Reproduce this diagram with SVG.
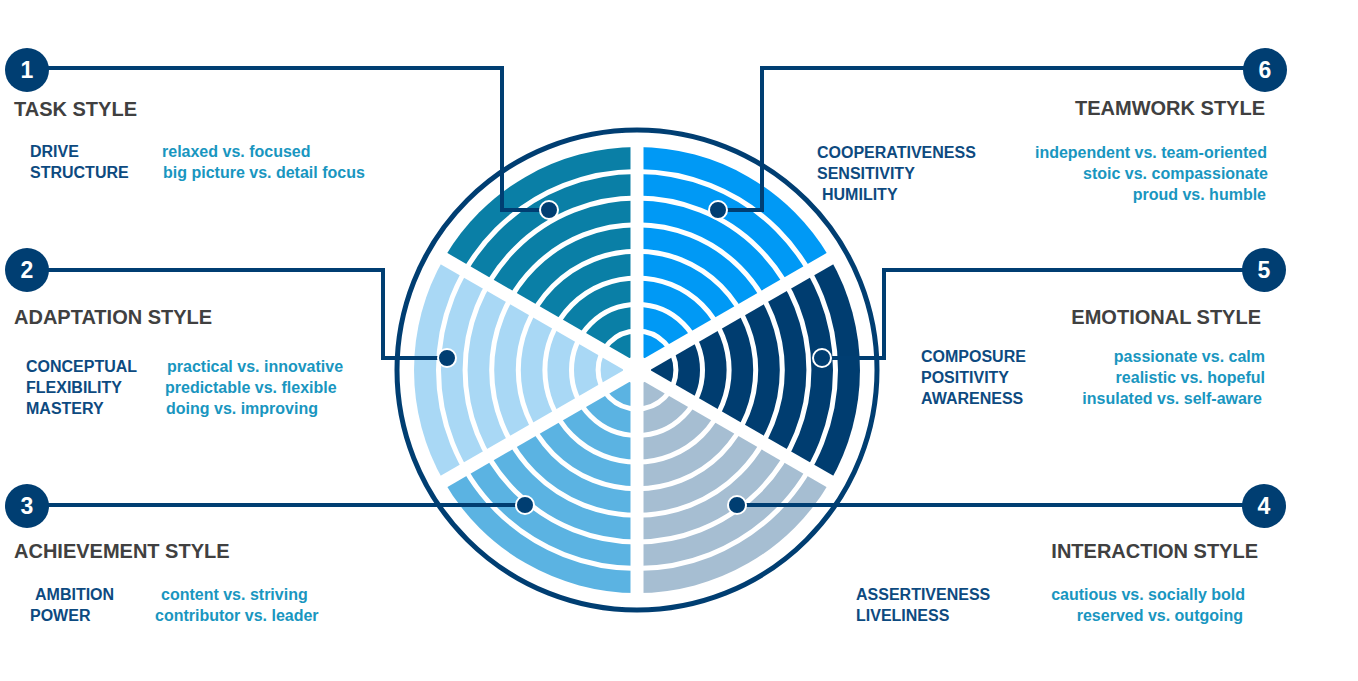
<svg xmlns="http://www.w3.org/2000/svg" width="1358" height="681" viewBox="0 0 1358 681">
<style>
.h{font-family:"Liberation Sans",Arial,sans-serif;font-weight:bold;font-size:20px;fill:#404040}
.l{font-family:"Liberation Sans",Arial,sans-serif;font-weight:bold;font-size:16px;fill:#0d4a80}
.v{font-family:"Liberation Sans",Arial,sans-serif;font-weight:bold;font-size:16px;fill:#1996c0}
.n{font-family:"Liberation Sans",Arial,sans-serif;font-weight:bold;font-size:23px;fill:#fff;text-anchor:middle}
.nc{fill:#003e72}
.cn{fill:none;stroke:#003e72;stroke-width:4}
.dot{fill:#003e72;stroke:#fff;stroke-width:2}
.gap{fill:none;stroke:#fff;stroke-width:5}
.e{text-anchor:end}
</style>
<rect width="1358" height="681" fill="#fff"/>
<g id="wheel">
<circle cx="637" cy="370" r="240" fill="#fff" stroke="#003e72" stroke-width="5"/>
<path d="M637,370 L637,147 A223,223 0 0 1 830.1,258.5 Z" fill="#0099f5"/>
<path d="M637,370 L830.1,258.5 A223,223 0 0 1 830.1,481.5 Z" fill="#003d70"/>
<path d="M637,370 L830.1,481.5 A223,223 0 0 1 637,593 Z" fill="#a6bed2"/>
<path d="M637,370 L637,593 A223,223 0 0 1 443.9,481.5 Z" fill="#5bb3e2"/>
<path d="M637,370 L443.9,481.5 A223,223 0 0 1 443.9,258.5 Z" fill="#a9d8f5"/>
<path d="M637,370 L443.9,258.5 A223,223 0 0 1 637,147 Z" fill="#0a7fa6"/>
<circle class="gap" cx="637" cy="370" r="198.5"/>
<circle class="gap" cx="637" cy="370" r="171.9"/>
<circle class="gap" cx="637" cy="370" r="145.3"/>
<circle class="gap" cx="637" cy="370" r="118.7"/>
<circle class="gap" cx="637" cy="370" r="92.1"/>
<circle class="gap" cx="637" cy="370" r="65.5"/>
<circle class="gap" cx="637" cy="370" r="38.9"/>
<circle cx="637" cy="370" r="14" fill="#fff"/>
<g stroke="#fff" stroke-width="13">
<line x1="637" y1="140" x2="637" y2="600"/>
<line x1="437.8" y1="255" x2="836.2" y2="485"/>
<line x1="437.8" y1="485" x2="836.2" y2="255"/>
</g>
</g>
<g id="connectors">
<polyline class="cn" points="40,68 502,68 502,210 549,210"/>
<polyline class="cn" points="1250,68 762,68 762,210 718,210"/>
<polyline class="cn" points="40,270 383,270 383,358 447,358"/>
<polyline class="cn" points="1250,270 884,270 884,358 822,358"/>
<polyline class="cn" points="40,505 525,505"/>
<polyline class="cn" points="1250,505 737,505"/>
<circle class="dot" cx="549" cy="210" r="9"/>
<circle class="dot" cx="718" cy="210" r="9"/>
<circle class="dot" cx="447" cy="358" r="9"/>
<circle class="dot" cx="822" cy="358" r="9"/>
<circle class="dot" cx="525" cy="505" r="9"/>
<circle class="dot" cx="737" cy="505" r="9"/>
</g>
<g id="n1"><circle class="nc" cx="27" cy="70" r="22"/><text class="n" x="27" y="78">1</text>
<text class="h" x="14" y="116">TASK STYLE</text>
<text class="l" x="30" y="157">DRIVE</text><text class="l" x="30" y="178">STRUCTURE</text>
<text class="v" x="162" y="157">relaxed vs. focused</text><text class="v" x="163" y="178">big picture vs. detail focus</text></g>
<g id="n2"><circle class="nc" cx="27" cy="270" r="22"/><text class="n" x="27" y="278">2</text>
<text class="h" x="14" y="324">ADAPTATION STYLE</text>
<text class="l" x="26" y="372">CONCEPTUAL</text><text class="l" x="26" y="393">FLEXIBILITY</text><text class="l" x="26" y="414">MASTERY</text>
<text class="v" x="167" y="372">practical vs. innovative</text><text class="v" x="165" y="393">predictable vs. flexible</text><text class="v" x="166" y="414">doing vs. improving</text></g>
<g id="n3"><circle class="nc" cx="27" cy="506" r="22"/><text class="n" x="27" y="514">3</text>
<text class="h" x="14" y="558">ACHIEVEMENT STYLE</text>
<text class="l" x="35" y="600">AMBITION</text><text class="l" x="30" y="621">POWER</text>
<text class="v" x="161" y="600">content vs. striving</text><text class="v" x="155" y="621">contributor vs. leader</text></g>
<g id="n4"><circle class="nc" cx="1264" cy="506" r="22"/><text class="n" x="1264" y="514">4</text>
<text class="h e" x="1258" y="558">INTERACTION STYLE</text>
<text class="l" x="856" y="600">ASSERTIVENESS</text><text class="l" x="856" y="621">LIVELINESS</text>
<text class="v e" x="1245" y="600">cautious vs. socially bold</text><text class="v e" x="1243" y="621">reserved vs. outgoing</text></g>
<g id="n5"><circle class="nc" cx="1264" cy="270" r="22"/><text class="n" x="1264" y="278">5</text>
<text class="h e" x="1261" y="324">EMOTIONAL STYLE</text>
<text class="l" x="921" y="362">COMPOSURE</text><text class="l" x="921" y="383">POSITIVITY</text><text class="l" x="921" y="404">AWARENESS</text>
<text class="v e" x="1265" y="362">passionate vs. calm</text><text class="v e" x="1265" y="383">realistic vs. hopeful</text><text class="v e" x="1262" y="404">insulated vs. self-aware</text></g>
<g id="n6"><circle class="nc" cx="1265" cy="70" r="22"/><text class="n" x="1265" y="78">6</text>
<text class="h e" x="1265" y="115">TEAMWORK STYLE</text>
<text class="l" x="817" y="158">COOPERATIVENESS</text><text class="l" x="817" y="179">SENSITIVITY</text><text class="l" x="822" y="200">HUMILITY</text>
<text class="v e" x="1267" y="158">independent  vs. team-oriented</text><text class="v e" x="1268" y="179">stoic vs. compassionate</text><text class="v e" x="1266" y="200">proud vs. humble</text></g>
</svg>
